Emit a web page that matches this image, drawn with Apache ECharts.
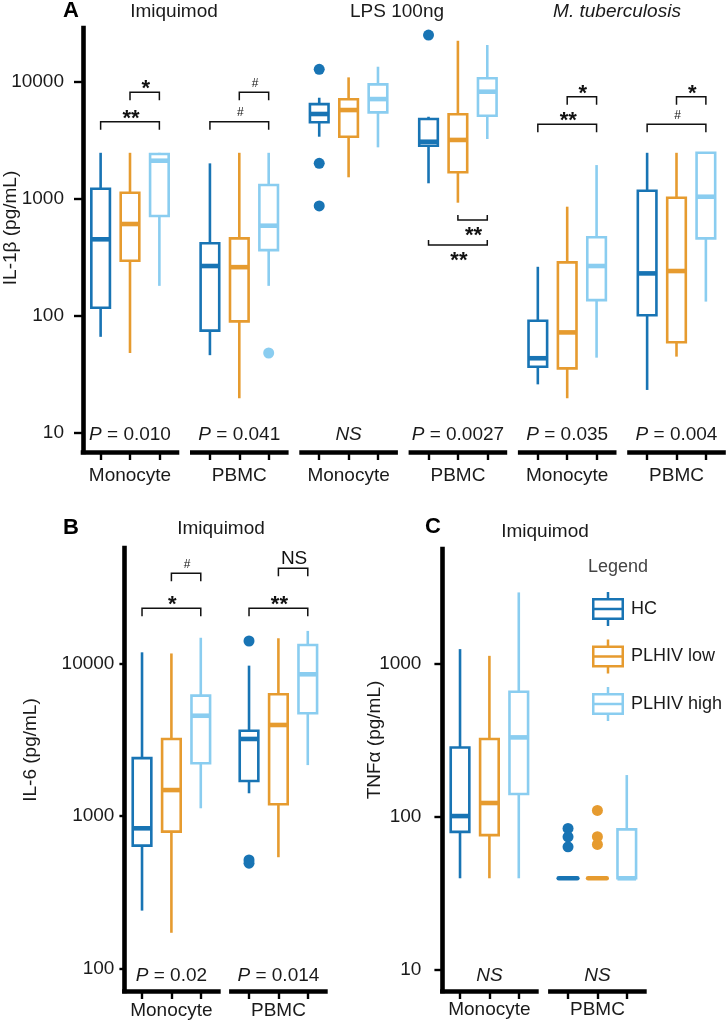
<!DOCTYPE html>
<html><head><meta charset="utf-8">
<script src="https://cdn.jsdelivr.net/npm/echarts@6/dist/echarts.min.js"></script>
<style>html,body{margin:0;padding:0;background:#fff}#c{width:726px;height:1022px}</style>
</head><body><div id="c"></div>
<script>
// ---------- DATA ----------
const SERIES_NAMES = ['HC', 'PLHIV low', 'PLHIV high'];
const COLORS = ['#1874b4', '#e69b2f', '#8acdf0'];

// Panel A: IL-1β (pg/mL); each box = [whiskerLow, Q1, median, Q3, whiskerHigh]
const A_STIMULI = ['Imiquimod', 'LPS 100ng', 'M. tuberculosis'];
const A_GROUPS = ['Monocyte', 'PBMC', 'Monocyte', 'PBMC', 'Monocyte', 'PBMC'];
const A_HC   = [[66,117,450,1216,2470],[46,74.5,266,416,2006],[3390,4500,5300,6440,7300],[1355,2840,3070,4800,5020],[25.9,36.6,43.3,90.6,262],[23.2,101,230,1170,2470]];
const A_LOW  = [[48,295,608,1125,2470],[19.7,89.5,260,458,2470],[1525,3390,5730,7080,10900],[925,1683,3180,5270,22400],[19.7,35.5,72,286,855],[44.7,59.3,241,1020,2470]];
const A_HIGH = [[180,711,2113,2410,2470],[180,364,588,1309,2470],[2750,5470,7110,9500,13440],[3240,5120,8220,10700,20600],[43.8,136,266,468,1940],[132,458,1040,2470,2470]];
const A_OUT_HC   = [[],[],[12760,2006,867],[25060],[],[]];
const A_OUT_LOW  = [[],[],[],[],[],[]];
const A_OUT_HIGH = [[],[48],[],[],[],[]];
const A_PVALUES = ['0.010','0.041',null,'0.0027','0.035','0.004'];
// [group, fromBox, toBox, level, label, side(1 above / -1 below)]
const A_BRACKETS = [[0,0,2,4550,'**',1],[0,1,2,8120,'*',1],[1,0,2,4550,'#',1],[1,1,2,8120,'#',1],
  [3,1,2,658,'**',-1],[3,0,2,402,'**',-1],[4,0,2,4330,'**',1],[4,1,2,7450,'*',1],[5,0,2,4330,'#',1],[5,1,2,7450,'*',1]];
const A_TICKS = [10, 100, 1000, 10000];

// Panel B: IL-6 (pg/mL), Imiquimod
const B_GROUPS = ['Monocyte', 'PBMC'];
const B_HC   = [[239,637,828,2390,11800],[1405,1690,3190,3610,9650]];
const B_LOW  = [[171,787,1475,3190,11600],[535,1190,3940,6270,14590]];
const B_HIGH = [[1120,2210,4530,6140,14700],[2150,4700,8470,13180,16300]];
const B_OUT_HC   = [[],[14000,513,489]];
const B_OUT_LOW  = [[],[]];
const B_OUT_HIGH = [[],[]];
const B_PVALUES = ['0.02','0.014'];
const B_BRACKETS = [[0,0,2,22960,'*',1],[0,1,2,38900,'#',1],[1,0,2,22960,'**',1],[1,1,2,42000,'NS',1]];
const B_TICKS = [100, 1000, 10000];

// Panel C: TNFα (pg/mL), Imiquimod
const C_GROUPS = ['Monocyte', 'PBMC'];
const C_HC   = [[39.5,79.6,101,284,1254],[39.5,39.5,39.5,39.5,39.5]];
const C_LOW  = [[39.5,75.7,123,323,1133],[39.5,39.5,39.5,39.5,39.5]];
const C_HIGH = [[39.5,141,331,659,2950],[39.5,39.5,39.5,82.6,187.5]];
const C_OUT_HC   = [[],[83.8,73.8,63.5]];
const C_OUT_LOW  = [[],[110,74,65.8]];
const C_OUT_HIGH = [[],[]];
const C_PVALUES = [null,null];
const C_BRACKETS = [];
const C_TICKS = [10, 100, 1000];

// ---------- RENDER ----------
const FONT = '"Liberation Sans", Arial, Helvetica, sans-serif';
const INK = '#1a1a1a';
const FS = 19;
const chart = echarts.init(document.getElementById('c'), null, {renderer: 'canvas', width: 726, height: 1022});

const grids = [], xAxes = [], yAxes = [], series = [], graphics = [];

function boxRender(color) {
  return function (params, api) {
    const x = api.value(0);
    const lo = api.coord([x, api.value(1)]);
    const q1 = api.coord([x, api.value(2)]);
    const md = api.coord([x, api.value(3)]);
    const q3 = api.coord([x, api.value(4)]);
    const hi = api.coord([x, api.value(5)]);
    const cx = lo[0], hw = 9.3, lw = 2.6;
    const flat = Math.abs(q1[1] - q3[1]) < 0.5;
    return {type: 'group', children: [
      {type: 'line', shape: {x1: cx, y1: hi[1], x2: cx, y2: q3[1]}, style: {stroke: color, lineWidth: lw}},
      {type: 'line', shape: {x1: cx, y1: q1[1], x2: cx, y2: lo[1]}, style: {stroke: color, lineWidth: lw}},
      {type: 'rect', shape: {x: cx - hw, y: q3[1], width: 2 * hw, height: q1[1] - q3[1]}, style: {stroke: color, fill: flat ? 'none' : '#fff', lineWidth: lw}},
      {type: 'line', shape: {x1: cx - hw, y1: md[1], x2: cx + hw, y2: md[1]}, style: {stroke: color, lineWidth: 4.6, lineCap: flat ? 'round' : 'butt'}}
    ]};
  };
}

function bracketRender(list) {
  return function (params, api) {
    const b = list[params.dataIndex];
    const p1 = api.coord([api.value(0), api.value(2)]);
    const p2 = api.coord([api.value(1), api.value(2)]);
    const dir = api.value(3);
    const y = p1[1];
    const arm = dir > 0 ? 8 : -5;
    const lbl = b[4];
    const star = lbl.indexOf('*') >= 0;
    const gc = dir > 0 ? y - 9 : y + 10;
    return {type: 'group', children: [
      {type: 'polyline', shape: {points: [[p1[0], y + arm], [p1[0], y], [p2[0], y], [p2[0], y + arm]]},
        style: {stroke: '#111', lineWidth: 1.5, fill: 'none'}},
      {type: 'text', x: (p1[0] + p2[0]) / 2 + 1, y: gc + (star ? 6 : 0),
        style: {text: lbl, align: 'center', verticalAlign: 'middle', fontSize: lbl === '#' ? 12 : (star ? 22 : FS),
          fontWeight: star ? 'bold' : 'normal', fill: '#111', fontFamily: FONT}}
    ]};
  };
}

function addPanel(cfg, groups, boxes, outs, brackets, pvals, ticks) {
  cfg.lefts.forEach(function (left, g) {
    const gi = grids.length;
    grids.push({left: left, top: cfg.top, width: cfg.width, height: cfg.height, containLabel: false, outerBoundsMode: 'none'});
    xAxes.push({
      type: 'value', gridIndex: gi, min: -0.6, max: 2.6,
      axisLine: {show: true, onZero: false, lineStyle: {color: '#000', width: 4.6, cap: 'square'}},
      axisTick: {show: true, length: 8, customValues: [0, 1, 2], lineStyle: {color: '#000', width: 2.4}},
      axisLabel: {show: false}, splitLine: {show: false},
      name: groups[g], nameLocation: 'middle', nameGap: cfg.xNameGap,
      nameTextStyle: {fontSize: FS, color: INK, fontFamily: FONT}
    });
    const first = g === 0;
    yAxes.push({
      type: 'log', logBase: 10, gridIndex: gi, min: cfg.ymin, max: cfg.ymax, show: first,
      axisLine: {show: true, onZero: false, lineStyle: {color: '#000', width: 4.6, cap: 'square'}},
      axisTick: {show: true, length: cfg.tickLen, customValues: ticks, lineStyle: {color: '#000', width: 2.4}},
      axisLabel: {customValues: ticks, fontSize: FS, color: INK, fontFamily: FONT, margin: cfg.labelMargin,
        formatter: function (v) { return String(Math.round(v)); }},
      splitLine: {show: false}, minorTick: {show: false}, minorSplitLine: {show: false}
    });
    boxes.forEach(function (arr, k) {
      series.push({type: 'custom', name: SERIES_NAMES[k], xAxisIndex: gi, yAxisIndex: gi,
        itemStyle: {color: COLORS[k]}, encode: {x: 0, y: [1, 2, 3, 4, 5]},
        data: [[k].concat(arr[g])], renderItem: boxRender(COLORS[k]), z: 3, silent: true});
      const o = outs[k][g];
      if (o && o.length) {
        series.push({type: 'scatter', name: SERIES_NAMES[k], xAxisIndex: gi, yAxisIndex: gi,
          symbol: 'circle', symbolSize: 11, itemStyle: {color: COLORS[k], opacity: 1},
          data: o.map(function (v) { return [k, v]; }), z: 4, silent: true});
      }
    });
    const bl = brackets.filter(function (b) { return b[0] === g; });
    if (bl.length) {
      series.push({type: 'custom', xAxisIndex: gi, yAxisIndex: gi, silent: true, z: 5,
        encode: {x: [0, 1], y: 2},
        data: bl.map(function (b) { return [b[1], b[2], b[3], b[5]]; }),
        renderItem: bracketRender(bl)});
    }
    const pv = pvals[g];
    graphics.push({type: 'text', x: left + cfg.width / 2, y: cfg.pY, silent: true,
      style: pv === null
        ? {text: 'NS', fontStyle: 'italic', fontSize: FS, fill: INK, fontFamily: FONT, align: 'center', verticalAlign: 'middle'}
        : {text: '{i|P} = ' + pv, fontSize: FS, fill: INK, fontFamily: FONT, align: 'center', verticalAlign: 'middle',
           rich: {i: {fontStyle: 'italic', fontSize: FS, fontFamily: FONT, fill: INK}}}});
  });
  graphics.push({type: 'text', x: cfg.yNameX, y: cfg.yNameY, rotation: Math.PI / 2, silent: true,
    style: {text: cfg.yName, fontSize: FS, fill: INK, fontFamily: FONT, align: 'center', verticalAlign: 'middle'}});
}

addPanel({lefts: [83, 192.3, 301.6, 410.9, 520.2, 629.5], width: 94, top: 28, height: 424,
  ymin: 6.84, ymax: 28800, yName: 'IL-1β (pg/mL)', yNameX: 11, yNameY: 228, labelMargin: 19, tickLen: 9,
  xNameGap: 14.5, pY: 435},
  A_GROUPS, [A_HC, A_LOW, A_HIGH], [A_OUT_HC, A_OUT_LOW, A_OUT_HIGH], A_BRACKETS, A_PVALUES, A_TICKS);
addPanel({lefts: [124.4, 231.4], width: 94, top: 548, height: 443,
  ymin: 71, ymax: 57000, yName: 'IL-6 (pg/mL)', yNameX: 31, yNameY: 750, labelMargin: 10, tickLen: 5,
  xNameGap: 10.5, pY: 976},
  B_GROUPS, [B_HC, B_LOW, B_HIGH], [B_OUT_HC, B_OUT_LOW, B_OUT_HIGH], B_BRACKETS, B_PVALUES, B_TICKS);
addPanel({lefts: [442.4, 550.4], width: 94, top: 549, height: 442,
  ymin: 7.21, ymax: 5680, yName: 'TNFα (pg/mL)', yNameX: 375, yNameY: 740, labelMargin: 21, tickLen: 8,
  xNameGap: 9, pY: 976},
  C_GROUPS, [C_HC, C_LOW, C_HIGH], [C_OUT_HC, C_OUT_LOW, C_OUT_HIGH], C_BRACKETS, C_PVALUES, C_TICKS);

function label(text, x, y, opts) {
  graphics.push({type: 'text', x: x, y: y, silent: true,
    style: Object.assign({text: text, fontSize: FS, fill: INK, fontFamily: FONT, align: 'center', verticalAlign: 'middle'}, opts || {})});
}
label('A', 63, 11, {fontSize: 22, fontWeight: 'bold', align: 'left', fill: '#000'});
label(A_STIMULI[0], 174, 12);
label(A_STIMULI[1], 397, 12);
label(A_STIMULI[2], 617, 12, {fontStyle: 'italic'});
label('B', 63, 528, {fontSize: 22, fontWeight: 'bold', align: 'left', fill: '#000'});
label('Imiquimod', 221, 529);
label('C', 425, 527, {fontSize: 22, fontWeight: 'bold', align: 'left', fill: '#000'});
label('Imiquimod', 545, 532);
label('Legend', 588, 567, {align: 'left', fill: '#444', fontSize: 18});

const ICON = 'path://M14.75,0H17.25V6H14.75Z M0,6H32V28H0Z M2.5,8.5V25.5H29.5V8.5Z M2.5,15.75H29.5V18.25H2.5Z M14.75,28H17.25V34H14.75Z';

chart.setOption({
  animation: false,
  backgroundColor: '#fff',
  textStyle: {fontFamily: FONT},
  grid: grids, xAxis: xAxes, yAxis: yAxes, series: series,
  graphic: {elements: graphics},
  legend: {orient: 'vertical', left: 592, top: 592, padding: 0, itemWidth: 32, itemHeight: 34, itemGap: 13.5,
    selectedMode: false, textStyle: {fontSize: 18, color: INK, fontFamily: FONT, padding: [0, 0, 0, 2]},
    data: SERIES_NAMES.map(function (n, k) { return {name: n, icon: ICON, itemStyle: {color: COLORS[k], borderWidth: 0}}; })}
});
</script></body></html>
